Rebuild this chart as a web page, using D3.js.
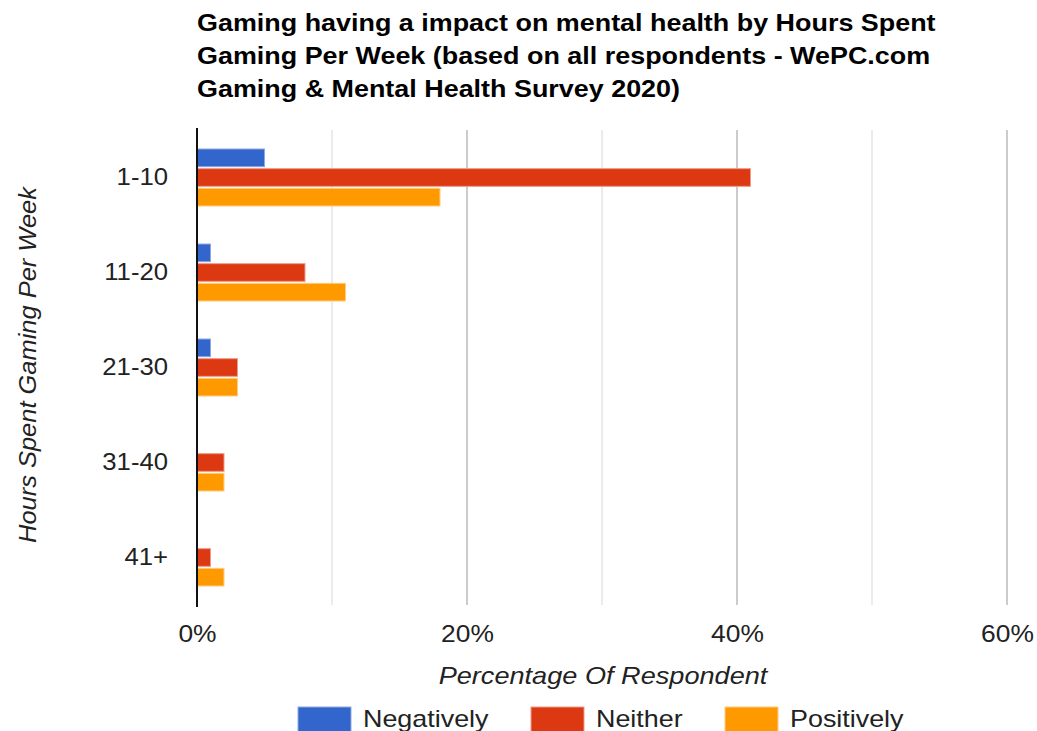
<!DOCTYPE html>
<html>
<head>
<meta charset="utf-8">
<script src="https://cdn.jsdelivr.net/npm/d3@7"></script>
<style>
  html, body { margin: 0; padding: 0; background: #fff; }
  svg { display: block; font-family: "Liberation Sans", Arial, sans-serif; }
</style>
</head>
<body>
<svg id="chart" width="1037" height="731"></svg>
<script>
// Survey data: share of respondents (%) by weekly gaming hours
const categories = ["1-10", "11-20", "21-30", "31-40", "41+"];
const seriesNames = ["Negatively", "Neither", "Positively"];
const negatively = [5, 1, 1, 0, 0];
const neither = [41, 8, 3, 2, 1];
const positively = [18, 11, 3, 2, 2];
const xTicks = [0, 20, 40, 60];
const gridValues = [10, 20, 30, 40, 50, 60];
const colors = ["#3366cc", "#dc3912", "#ff9900"];
const strokes = ["#8fa9e0", "#ee9c89", "#ffcc80"];
const titleLines = [
  "Gaming having a impact on mental health by Hours Spent",
  "Gaming Per Week (based on all respondents - WePC.com",
  "Gaming & Mental Health Survey 2020)"
];

const seriesValues = [negatively, neither, positively];
const rows = categories.map((c, i) => ({
  cat: c,
  vals: seriesNames.map((s, j) => ({ key: s, value: seriesValues[j][i], idx: j }))
}));

const svg = d3.select("#chart");
const plot = { left: 197, right: 1007, top: 130, bottom: 605 };

// Widen glyphs a little: the chart's type is set slightly broad
function widen(sel, factor) {
  sel.each(function () {
    const w = this.getComputedTextLength();
    d3.select(this).attr("textLength", w * factor).attr("lengthAdjust", "spacingAndGlyphs");
  });
}

const x = d3.scaleLinear().domain([0, 60]).range([plot.left, plot.right]);
const y = d3.scaleBand().domain(categories).range([plot.top, plot.bottom]).paddingInner(0.4).paddingOuter(0.2);
const ySub = d3.scaleBand().domain(seriesNames).range([0, y.bandwidth()]).paddingInner(0.1);

// Title
svg.append("g").selectAll("text").data(titleLines).join("text")
  .attr("x", 197)
  .attr("y", (d, i) => 31 + i * 33)
  .attr("font-size", 23.5)
  .attr("font-weight", "bold")
  .attr("fill", "#000")
  .text(d => d)
  .call(widen, 1.145);

// Gridlines
svg.append("g").selectAll("line").data(gridValues).join("line")
  .attr("x1", d => x(d)).attr("x2", d => x(d))
  .attr("y1", plot.top).attr("y2", plot.bottom)
  .attr("stroke", d => d % 20 === 0 ? "#cccccc" : "#ebebeb")
  .attr("stroke-width", 2);

// Bars
const groups = svg.append("g").selectAll("g").data(rows).join("g")
  .attr("transform", d => `translate(0,${y(d.cat)})`);
groups.selectAll("rect").data(d => d.vals.filter(v => v.value > 0)).join("rect")
  .attr("x", x(0))
  .attr("y", d => ySub(d.key))
  .attr("width", d => x(d.value) - x(0))
  .attr("height", ySub.bandwidth())
  .attr("fill", d => colors[d.idx])
  .attr("stroke", d => strokes[d.idx])
  .attr("stroke-width", 1);

// Zero baseline
svg.append("line")
  .attr("x1", x(0)).attr("x2", x(0))
  .attr("y1", plot.top - 2).attr("y2", plot.bottom + 2)
  .attr("stroke", "#111").attr("stroke-width", 2);

// Category axis labels
const yAxis = d3.axisLeft(y).tickSize(0).tickPadding(29);
svg.append("g").attr("transform", `translate(${plot.left},0)`).call(yAxis)
  .call(g => g.select(".domain").remove())
  .call(g => g.selectAll("text")
    .attr("font-size", 24)
    .attr("font-family", "'Liberation Sans', Arial, sans-serif")
    .attr("fill", "#222")
    .call(widen, 1.07));

// Value axis labels
const xAxis = d3.axisBottom(x).tickValues(xTicks).tickSize(0).tickPadding(20)
  .tickFormat(d => d + "%");
svg.append("g").attr("transform", `translate(0,${plot.bottom})`).call(xAxis)
  .call(g => g.select(".domain").remove())
  .call(g => g.selectAll("text")
    .attr("font-size", 24)
    .attr("font-family", "'Liberation Sans', Arial, sans-serif")
    .attr("fill", "#222")
    .call(widen, 1.1));

// Axis titles
svg.append("text")
  .attr("x", 603).attr("y", 684)
  .attr("text-anchor", "middle")
  .attr("font-size", 24)
  .attr("font-style", "italic")
  .attr("fill", "#222")
  .text("Percentage Of Respondent")
  .call(widen, 1.13);

svg.append("text")
  .attr("transform", "translate(36,365) rotate(-90)")
  .attr("text-anchor", "middle")
  .attr("font-size", 24)
  .attr("font-style", "italic")
  .attr("fill", "#222")
  .text("Hours Spent Gaming Per Week")
  .call(widen, 1.06);

// Legend
const legendX = [298, 531, 725];
const legend = svg.append("g").selectAll("g").data(seriesNames).join("g")
  .attr("transform", (d, i) => `translate(${legendX[i]},707)`);
legend.append("rect")
  .attr("width", 53).attr("height", 30)
  .attr("fill", (d, i) => colors[i])
  .attr("stroke", (d, i) => strokes[i]);
legend.append("text")
  .attr("x", 65).attr("y", 20)
  .attr("font-size", 24)
  .attr("fill", "#222")
  .text(d => d)
  .call(widen, 1.12);
</script>
</body>
</html>
